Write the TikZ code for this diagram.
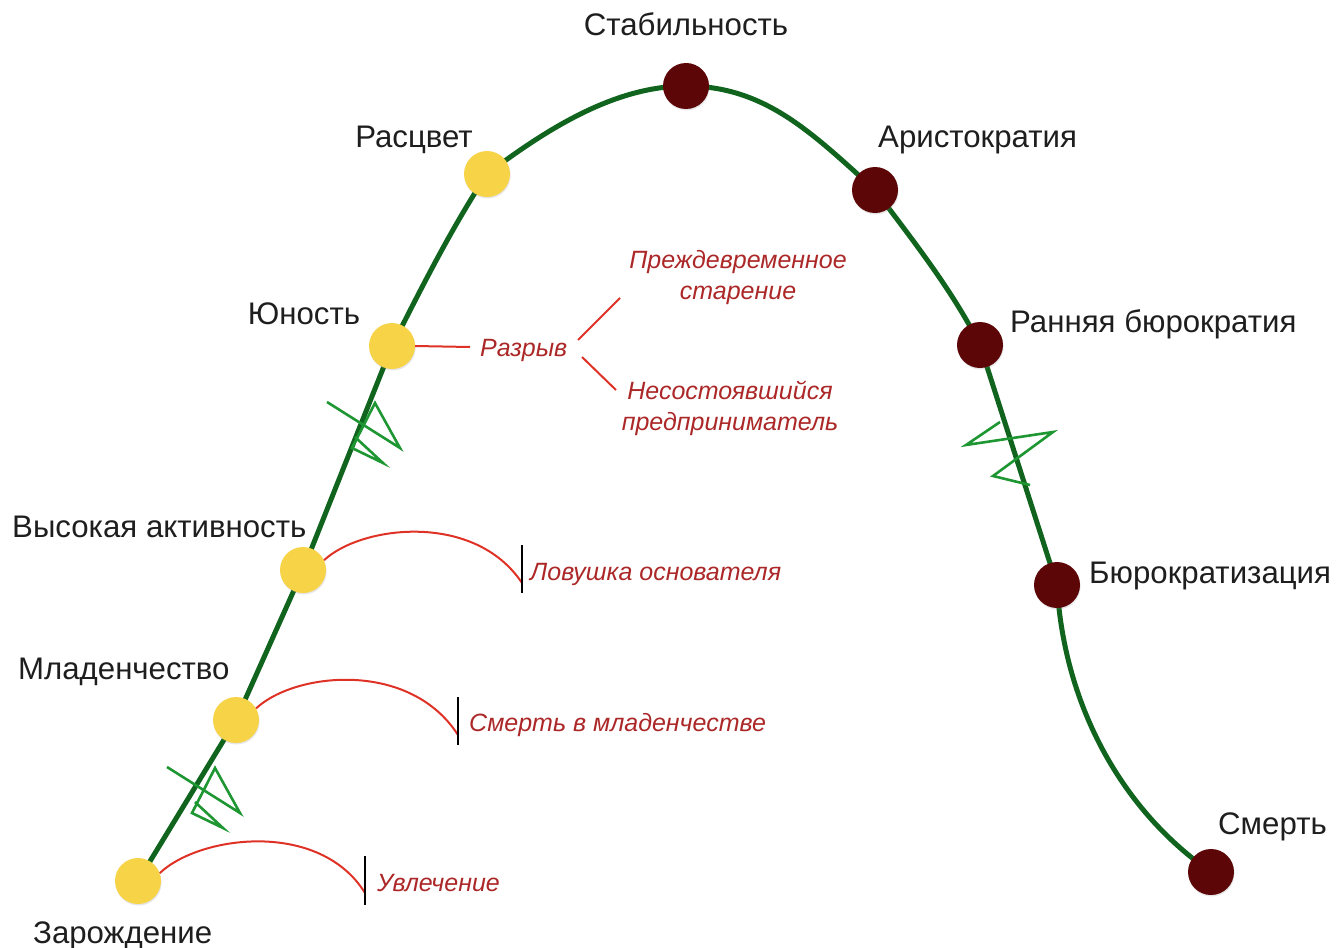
\documentclass[tikz,border=0pt]{standalone}
\usepackage{fontspec}
\setmainfont{Liberation Sans}
\usetikzlibrary{shadows,calc}
\definecolor{curvegreen}{RGB}{16,100,30}
\definecolor{ziggreen}{RGB}{30,150,50}
\definecolor{ylw}{RGB}{247,211,72}
\definecolor{dred}{RGB}{92,6,8}
\definecolor{lred}{RGB}{222,50,38}
\definecolor{tred}{RGB}{172,40,40}
\definecolor{txt}{RGB}{30,30,30}
\begin{document}
\begin{tikzpicture}[x=1pt,y=-1pt,
  stage/.style={circle, minimum size=46pt, inner sep=0pt,
    drop shadow={opacity=0.2,shadow xshift=0.6pt,shadow yshift=-1.5pt}},
  young/.style={stage, fill=ylw},
  old/.style={stage, fill=dred},
  lbl/.style={font=\fontsize{31.2}{35}\selectfont, text=txt, inner sep=0pt},
  rlbl/.style={font=\fontsize{25}{29}\selectfont\itshape, text=tred, inner sep=0pt},
  mainline/.style={draw=curvegreen, line width=5pt, line join=round},
  zig/.style={draw=ziggreen, line width=2.6pt, line join=miter},
  trap/.style={draw=lred, line width=2pt},
  bar/.style={draw=black, line width=2.5pt}]
\useasboundingbox (0,0) rectangle (1340,947);

% stage coordinates
\coordinate (pzar) at (138,881);
\coordinate (pmlad) at (236,720);
\coordinate (pvys) at (303,570);
\coordinate (pyun) at (392,346);
\coordinate (prasc) at (487,174);
\coordinate (pstab) at (686,86);
\coordinate (parist) at (875,190);
\coordinate (prbur) at (980,345);
\coordinate (pbur) at (1057,585);
\coordinate (psmert) at (1211,872);

% main curve
\draw[mainline] (pzar) -- (pmlad) -- (pvys) -- (pyun)
  .. controls (421.5,287.7) and (451,229) .. (prasc)
  .. controls (545,130.5) and (613.5,86) .. (pstab)
  .. controls (765,86) and (812,133) .. (parist)
  .. controls (912.4,239.9) and (951.9,289.5) .. (prbur)
  -- (pbur)
  .. controls (1064,708) and (1124,812) .. (psmert);

% zigzags
\draw[zig] (327,402) -- (400,448) -- (375,403) -- (352,448) -- (383,463) -- (355,437);
\draw[zig] (167,767) -- (240,813) -- (215,768) -- (192,813) -- (223,828) -- (195,802);
\draw[zig] (1000,422) -- (966,445) -- (1053,432) -- (993,476) -- (1030,485);

% stages
\node[young] (zar) at (pzar) {};
\node[young] (mlad) at (pmlad) {};
\node[young] (vys) at (pvys) {};
\node[young] (yun) at (pyun) {};
\node[young] (rasc) at (prasc) {};
\node[old] (stab) at (pstab) {};
\node[old] (arist) at (parist) {};
\node[old] (rbur) at (prbur) {};
\node[old] (bur) at (pbur) {};
\node[old] (smert) at (psmert) {};

% black labels
\node[lbl, anchor=base] (tstab) at (686,36) {Стабильность};
\node[lbl, anchor=base] (trasc) at (414,147) {Расцвет};
\node[lbl, anchor=base west] (tarist) at (878,147) {Аристократия};
\node[lbl, anchor=base] (tyun) at (304,324) {Юность};
\node[lbl, anchor=base west] (trbur) at (1010,332) {Ранняя бюрократия};
\node[lbl, anchor=base west] (tvys) at (12,537) {Высокая активность};
\node[lbl, anchor=base west] (tbur) at (1089,583) {Бюрократизация};
\node[lbl, anchor=base west] (tmlad) at (18,679) {Младенчество};
\node[lbl, anchor=base west] (tsmert) at (1218,834) {Смерть};
\node[lbl, anchor=base west] (tzar) at (33,943) {Зарождение};

% red labels
\node[rlbl, anchor=base] (tpre1) at (738,268) {Преждевременное};
\node[rlbl, anchor=base] (tpre2) at (738,299) {старение};
\node[rlbl, anchor=base west] (traz) at (480,356) {Разрыв};
\node[rlbl, anchor=base] (tnes1) at (730,399) {Несостоявшийся};
\node[rlbl, anchor=base] (tnes2) at (730,430) {предприниматель};
\node[rlbl, anchor=base west] (tlov) at (530,580) {Ловушка основателя};
\node[rlbl, anchor=base west] (tsm) at (469,731) {Смерть в младенчестве};
\node[rlbl, anchor=base west] (tuvl) at (377,891) {Увлечение};

% Разрыв connectors
\coordinate (rz1) at (470,347);
\coordinate (b1a) at (578,340);
\coordinate (b1b) at (620,298);
\coordinate (b2a) at (582,357);
\coordinate (b2b) at (616,390);
\draw[trap] (yun.east) -- (rz1);
\draw[trap] (b1a) -- (b1b);
\draw[trap] (b2a) -- (b2b);

% traps
\coordinate (e1) at (522,583);
\coordinate (e2) at (458,735);
\coordinate (e3) at (365,893);
\draw[trap] (vys.25) .. controls (362,525) and (475,512) .. (e1);
\draw[trap] (mlad.30) .. controls (295,672) and (410,660) .. (e2);
\draw[trap] (zar.20) .. controls (200,835) and (320,820) .. (e3);
\draw[bar] ($(e1)+(0,-38)$) -- ($(e1)+(0,10)$);
\draw[bar] ($(e2)+(0,-38)$) -- ($(e2)+(0,10)$);
\draw[bar] ($(e3)+(0,-37)$) -- ($(e3)+(0,12)$);
\end{tikzpicture}
\end{document}
